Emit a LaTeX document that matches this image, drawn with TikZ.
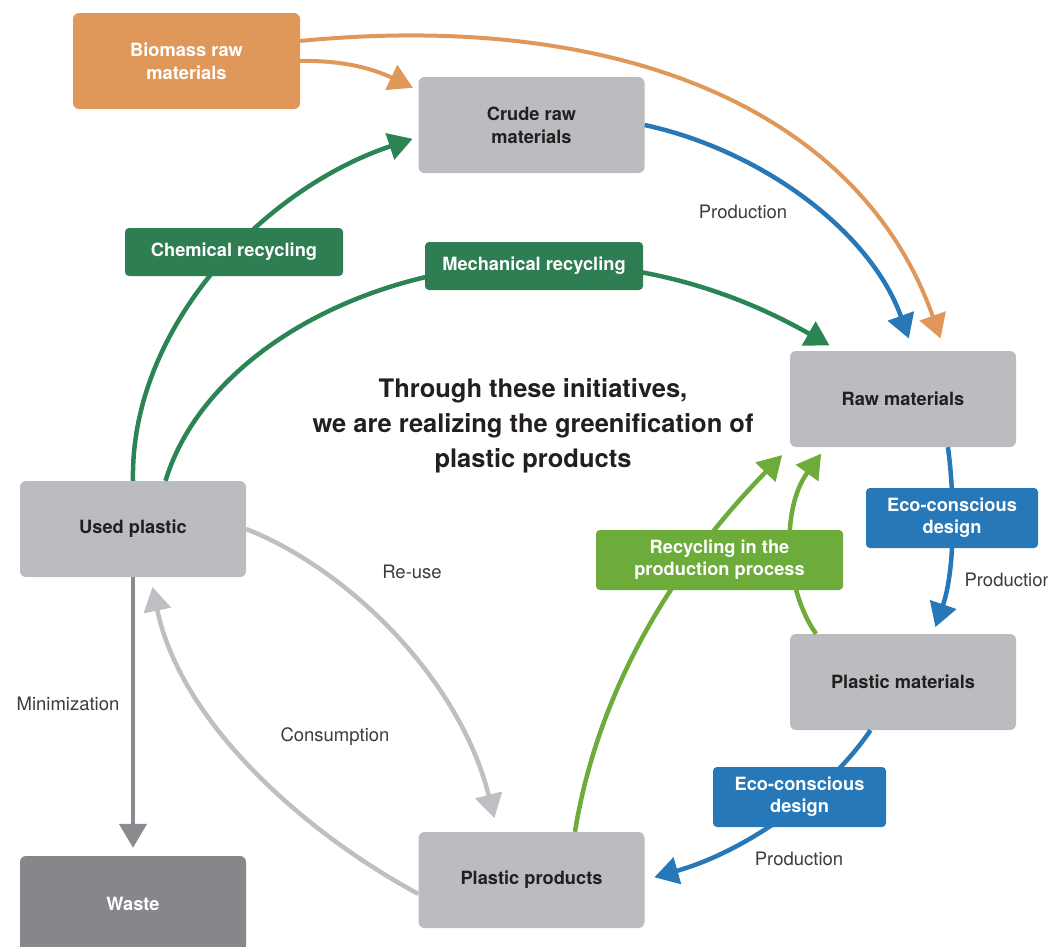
\documentclass[tikz,border=0pt]{standalone}
\usepackage{fontspec}
\setmainfont{TeX Gyre Heros}
\usepackage{tikz}
\usetikzlibrary{arrows.meta}

\definecolor{boxgray}{HTML}{BBBCBF}
\definecolor{wastegray}{HTML}{86878B}
\definecolor{biomassorange}{HTML}{E0985A}
\definecolor{chemgreen}{HTML}{2F7D52}
\definecolor{arrowgreen}{HTML}{2B8453}
\definecolor{ecoblue}{HTML}{2778B8}
\definecolor{loopgreen}{HTML}{6DAB3A}
\definecolor{lightarrow}{HTML}{BEBFC2}
\definecolor{darkarrow}{HTML}{8A8B8E}
\definecolor{textdark}{HTML}{231F20}
\definecolor{labeltext}{HTML}{3C3C3C}

\begin{document}
\begin{tikzpicture}[x=1pt,y=-1pt,>={Triangle[length=24pt,width=27pt]}]
      \tikzstyle{box} = [rectangle, rounded corners=6pt, fill=boxgray, text=textdark, minimum width=226pt, minimum height=96pt, inner sep=2pt, align=center, font=\fontsize{18.25}{23}\selectfont\bfseries]
      \tikzstyle{tag} = [rectangle, rounded corners=4pt, text=white, align=center, inner sep=0pt, font=\fontsize{18.25}{22}\selectfont\bfseries]
      \tikzstyle{lbl} = [text=labeltext, font=\fontsize{18.5}{20}\selectfont]
      \tikzstyle{flow} = [line width=4.5pt, ->]
      \useasboundingbox (0,0) rectangle (1048,946);
      % boxes
      \node (biomass) [box, fill=biomassorange, text=white, minimum width=227pt] at (186.5,61) {Biomass raw\\materials};
      \node (crude) [box] at (531.5,125) {Crude raw\\materials};
      \node (raw) [box] at (903,399) {Raw materials};
      \node (pmat) [box] at (903,682) {Plastic materials};
      \node (prod) [box] at (531.5,880) {Plastic products};
      \node (used) [box] at (133,529) {Used plastic};
      \node (waste) [box, fill=wastegray, text=white] at (133,904) {Waste};
      % connectors
      \draw [flow, biomassorange, line width=4pt, shorten >=6pt] (biomass.east) .. controls (350,60) and (380,72) .. (crude.163);
      \draw [flow, biomassorange, line width=4pt, shorten >=13pt] (biomass.10) .. controls (620,10) and (860,110) .. (raw.49);
      \draw [flow, ecoblue, shorten >=13pt] (crude.east) .. controls (760,150) and (870,230) .. (raw.78);
      \draw [flow, arrowgreen, shorten >=6pt] (used.north) .. controls (130,330) and (260,190) .. (crude.186);
      \draw [flow, arrowgreen, shorten >=11pt] (used.56) .. controls (220,300) and (540,180) .. (raw.143);
      \draw [flow, ecoblue, shorten >=7pt] (raw.-47) .. controls (955,500) and (955,570) .. (pmat.58);
      \draw [flow, ecoblue, shorten >=10pt] (pmat.236) .. controls (830,790) and (750,850) .. (prod.east);
      \draw [flow, loopgreen, shorten >=11pt] (prod.48) .. controls (600,680) and (680,560) .. (raw.south west);
      \draw [flow, loopgreen, shorten >=8pt] (pmat.151) .. controls (785,590) and (780,510) .. (raw.212);
      \draw [flow, lightarrow, shorten >=14pt] (used.east) .. controls (350,570) and (460,680) .. (prod.125);
      \draw [flow, lightarrow, shorten >=10pt] (prod.187) .. controls (300,830) and (180,720) .. (used.290);
      \draw [flow, darkarrow, shorten >=8pt] (used.south)--(waste.north);
      % tags on the connectors
      \node (chem) [tag, fill=chemgreen, minimum width=218pt, minimum height=48pt] at (234,252) {Chemical recycling};
      \node (mech) [tag, fill=chemgreen, minimum width=218pt, minimum height=48pt] at (534,266) {Mechanical recycling};
      \node (eco1) [tag, fill=ecoblue, minimum width=172pt, minimum height=60pt] at (952,518) {Eco-conscious\\design};
      \node (eco2) [tag, fill=ecoblue, minimum width=173pt, minimum height=60pt] at (799.5,797) {Eco-conscious\\design};
      \node (recyc) [tag, fill=loopgreen, minimum width=247pt, minimum height=60pt] at (719.5,560) {Recycling in the\\production process};
      % labels
      \node (prodlbl1) [lbl] at (743,212) {Production};
      \node (prodlbl2) [lbl, anchor=west] at (961,580) {Production};
      \node (prodlbl3) [lbl] at (799,859) {Production};
      \node (reuse) [lbl] at (412,572) {Re-use};
      \node (minim) [lbl] at (68,704) {Minimization};
      \node (consum) [lbl] at (335,737) {Consumption};
      \node (title) [text=textdark, align=center, font=\fontsize{25.5}{35}\selectfont\bfseries] at (533,426) {Through these initiatives,\\we are realizing the greenification of\\plastic products};
    \end{tikzpicture}
\end{document}
